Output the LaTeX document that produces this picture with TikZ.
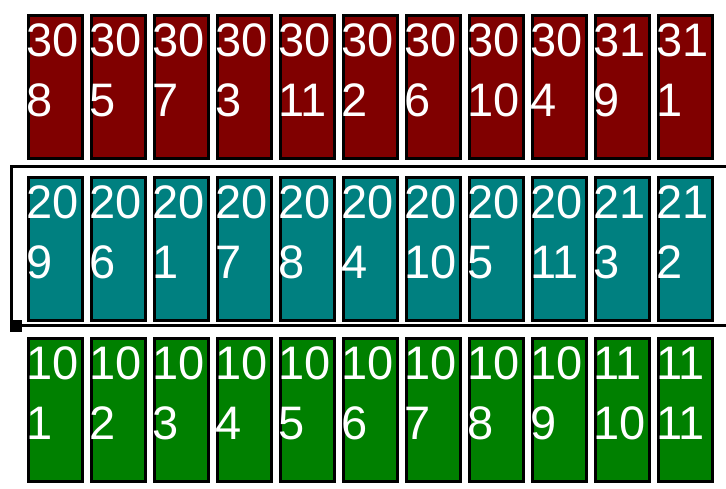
\documentclass[tikz,border=0pt]{standalone}
\usepackage{fontspec}
\setmainfont{Liberation Sans}
\begin{document}
\begin{tikzpicture}[x=1pt,y=-1pt,
  cell/.style={draw=black, line width=3pt, inner sep=0pt, minimum width=54pt, minimum height=143pt, anchor=north west},
  topc/.style={cell, fill={rgb,255:red,128;green,0;blue,0}},
  midc/.style={cell, fill={rgb,255:red,0;green,128;blue,128}},
  botc/.style={cell, fill={rgb,255:red,0;green,128;blue,0}},
  lbl/.style={text=white, inner sep=0pt, align=left, anchor=base west, font=\fontsize{47}{60}\selectfont},
  frame/.style={draw=black, line width=3pt}]
\useasboundingbox (0,0) rectangle (726,488);
% top row
\foreach \a/\b [count=\i] in {30/8,30/5,30/7,30/3,30/11,30/2,30/6,30/10,30/4,31/9,31/1}{
  \node[topc] (t\i) at ({26.5+63*(\i-1)},13.5) {};
  \node[lbl] (tl\i) at ({26+63*(\i-1)},116) {\a\\\b};
}
% middle row
\foreach \a/\b [count=\i] in {20/9,20/6,20/1,20/7,20/8,20/4,20/10,20/5,20/11,21/3,21/2}{
  \node[midc] (m\i) at ({26.5+63*(\i-1)},175.5) {};
  \node[lbl] (ml\i) at ({26+63*(\i-1)},278) {\a\\\b};
}
% bottom row
\foreach \a/\b [count=\i] in {10/1,10/2,10/3,10/4,10/5,10/6,10/7,10/8,10/9,11/10,11/11}{
  \node[botc] (b\i) at ({26.5+63*(\i-1)},336.5) {};
  \node[lbl] (bl\i) at ({26+63*(\i-1)},439) {\a\\\b};
}
% frame connector
\coordinate (ftr) at (727,166.5);
\coordinate (ftl) at (11.5,166.5);
\coordinate (fbl) at (11.5,325.5);
\coordinate (fbr) at (727,325.5);
\draw[frame] (ftr) -- (ftl) -- (fbl) -- (fbr);
\node[fill=black, inner sep=0pt, minimum width=12pt, minimum height=12pt, anchor=north west] (mk) at (10,320) {};
\end{tikzpicture}
\end{document}
